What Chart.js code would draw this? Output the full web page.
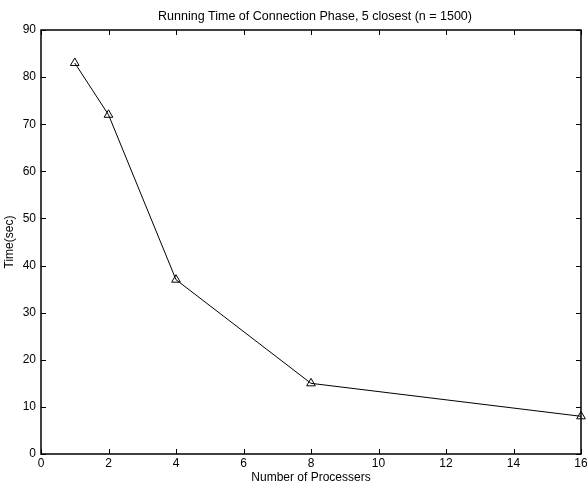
<!DOCTYPE html>
<html>
<head>
<meta charset="utf-8">
<script src="https://cdn.jsdelivr.net/npm/chart.js@4/dist/chart.umd.min.js"></script>
<style>
html,body{margin:0;padding:0;background:#fff;}
#wrap{width:587px;height:485px;position:relative;}
</style>
</head>
<body>
<div id="wrap"><canvas id="c" width="587" height="485"></canvas></div>
<script>
const processors = [1, 2, 4, 8, 16];
const timeSec = [83, 72, 37, 15, 8];
const xTickRange = [0, 16, 2];
const yTickRange = [0, 90, 10];
const titleText = 'Running Time of Connection Phase, 5 closest (n = 1500)';
const xTitle = 'Number of Processers';
const yTitle = 'Time(sec)';

const FONT = 'Liberation Sans, Arial, Helvetica, sans-serif';

const frameTicks = {
  id: 'frameTicks',
  afterDraw(chart) {
    const ctx = chart.ctx, a = chart.chartArea;
    const xs = chart.scales.x, ys = chart.scales.y;
    const L = 5;
    ctx.save();
    ctx.strokeStyle = '#000';
    ctx.lineWidth = 1;
    ctx.beginPath();
    xs.ticks.forEach(t => {
      const px = Math.round(xs.getPixelForValue(t.value)) + 0.5;
      ctx.moveTo(px, a.bottom); ctx.lineTo(px, a.bottom - L);
      ctx.moveTo(px, a.top); ctx.lineTo(px, a.top + L);
    });
    ys.ticks.forEach(t => {
      const py = Math.round(ys.getPixelForValue(t.value)) + 0.5;
      ctx.moveTo(a.left, py); ctx.lineTo(a.left + L, py);
      ctx.moveTo(a.right, py); ctx.lineTo(a.right - L, py);
    });
    ctx.stroke();
    ctx.lineWidth = 1.5;
    ctx.strokeRect(Math.round(a.left), Math.round(a.top), Math.round(a.right - a.left), Math.round(a.bottom - a.top));
    // title centred over the axes box
    ctx.fillStyle = '#000';
    ctx.font = '12.5px ' + FONT;
    ctx.textAlign = 'center';
    ctx.textBaseline = 'middle';
    ctx.fillText(titleText, (a.left + a.right) / 2 + 4, 17);
    ctx.restore();
  }
};

new Chart(document.getElementById('c'), {
  type: 'line',
  data: {
    datasets: [{
      data: processors.map((p, i) => ({x: p, y: timeSec[i]})),
      borderColor: '#000',
      borderWidth: 1,
      pointStyle: 'triangle',
      pointRadius: 5,
      pointBorderColor: '#000',
      pointBackgroundColor: 'rgba(0,0,0,0)',
      pointBorderWidth: 1,
      tension: 0,
      clip: false
    }]
  },
  options: {
    responsive: false,
    animation: false,
    layout: {padding: {left: 0, right: 4, top: 30, bottom: 0}},
    plugins: {
      legend: {display: false},
      tooltip: {enabled: false},
      title: {display: false}
    },
    scales: {
      x: {
        type: 'linear',
        min: xTickRange[0], max: xTickRange[1],
        ticks: {stepSize: xTickRange[2], color: '#000', font: {family: FONT, size: 12}, padding: 2, maxRotation: 0},
        grid: {display: false, drawTicks: false},
        border: {display: false},
        title: {display: true, text: xTitle, color: '#000', font: {family: FONT, size: 12}, padding: {top: 0, bottom: 0}},
        afterFit(s) { s.height = 31; s.paddingLeft = 0; s.paddingRight = 0; }
      },
      y: {
        type: 'linear',
        min: yTickRange[0], max: yTickRange[1],
        ticks: {stepSize: yTickRange[2], color: '#000', font: {family: FONT, size: 12}, padding: 5},
        grid: {display: false, drawTicks: false},
        border: {display: false},
        title: {display: true, text: yTitle, color: '#000', font: {family: FONT, size: 12}, padding: {top: 2, bottom: 0}},
        afterFit(s) { s.width = 41; s.paddingTop = 0; s.paddingBottom = 0; }
      }
    }
  },
  plugins: [frameTicks]
});
</script>
</body>
</html>
